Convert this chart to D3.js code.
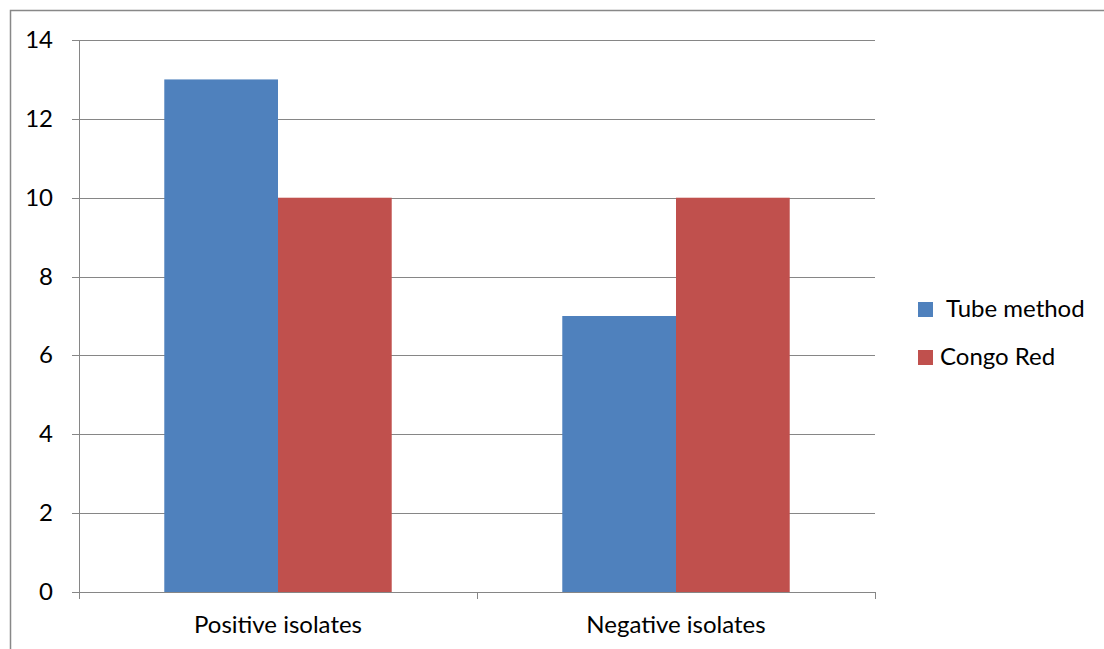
<!DOCTYPE html>
<html><head><meta charset="utf-8">
<script src="https://cdn.jsdelivr.net/npm/d3@7"></script>
<style>body{margin:0;background:#fff}svg{display:block}</style>
</head><body>
<script>
const categories = ["Positive isolates", "Negative isolates"];
const seriesNames = ["Tube method", "Congo Red"];
const tubeMethod = [13, 7];
const congoRed = [10, 10];
const yTicks = [0, 2, 4, 6, 8, 10, 12, 14];
const colors = ["#4F81BD", "#C0504D"];

(function () {
const W = 1104, H = 649;
const svg = d3.select("body").append("svg").attr("width", W).attr("height", H);
const font = "Lato, 'Open Sans', sans-serif";
const fs = 24;

svg.append("rect").attr("x", 10.5).attr("y", 10.5).attr("width", 1110).attr("height", 700)
  .attr("fill", "none").attr("stroke", "#888").attr("stroke-width", 1.5);

const pLeft = 79, pRight = 875, pTop = 40, pBottom = 592;
const x0 = d3.scaleBand().domain(categories).range([pLeft, pRight]).paddingInner(0).paddingOuter(0);
const x1 = d3.scaleBand().domain(seriesNames).range([0, x0.bandwidth()]).paddingInner(0).paddingOuter(0.75);
const y = d3.scaleLinear().domain([0, 14]).range([pBottom, pTop]);

const g = svg.append("g");
g.selectAll("line.grid").data(yTicks).join("line")
  .attr("x1", pLeft - 7).attr("x2", pRight).attr("y1", d => Math.round(y(d)) + 0.5).attr("y2", d => Math.round(y(d)) + 0.5)
  .attr("stroke", "#868686").attr("stroke-width", 1);

const values = [tubeMethod, congoRed];
seriesNames.forEach((s, si) => {
  g.selectAll("rect.s" + si).data(categories).join("rect")
    .attr("x", d => x0(d) + x1(s)).attr("width", x1.bandwidth())
    .attr("y", (d, i) => y(values[si][i])).attr("height", (d, i) => y(0) - y(values[si][i]))
    .attr("fill", colors[si]);
});

g.append("line").attr("x1", pLeft + 0.5).attr("x2", pLeft + 0.5).attr("y1", pTop).attr("y2", pBottom)
  .attr("stroke", "#868686");
g.append("line").attr("x1", pLeft - 7).attr("x2", pRight).attr("y1", pBottom + 0.5).attr("y2", pBottom + 0.5)
  .attr("stroke", "#868686");
const xt = [pLeft, ...categories.map(c => x0(c) + x0.bandwidth())];
g.selectAll("line.xt").data(xt).join("line")
  .attr("x1", d => Math.round(d) + 0.5).attr("x2", d => Math.round(d) + 0.5).attr("y1", pBottom).attr("y2", pBottom + 7)
  .attr("stroke", "#868686");

g.selectAll("text.yl").data(yTicks).join("text")
  .attr("x", 53).attr("y", d => y(d) + 8).attr("text-anchor", "end")
  .attr("font-family", font).attr("font-size", fs).attr("fill", "#000").text(d => d);

g.selectAll("text.xl").data(categories).join("text")
  .attr("x", d => x0(d) + x0.bandwidth() / 2).attr("y", 633).attr("text-anchor", "middle")
  .attr("font-family", font).attr("font-size", fs).attr("fill", "#000").text(d => d);

const leg = svg.append("g");
seriesNames.forEach((s, i) => {
  const base = 317 + i * 48;
  leg.append("rect").attr("x", 918).attr("y", base - 15).attr("width", 15).attr("height", 15).attr("fill", colors[i]);
  leg.append("text").attr("x", i === 0 ? 946 : 940).attr("y", base)
    .attr("font-family", font).attr("font-size", fs).attr("fill", "#000").text(s);
});
})();
</script>
</body></html>
